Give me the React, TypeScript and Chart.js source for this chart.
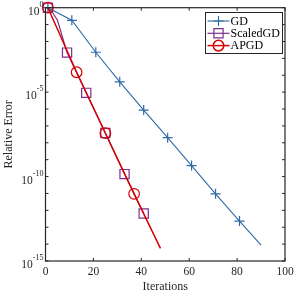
import React, { useEffect, useRef } from 'react';
import { Chart, registerables } from 'chart.js';

Chart.register(...registerables);

// ---- data ----
const GD_ITER = [1, 11, 21, 31, 41, 51, 61, 71, 81, 90];
const GD_ERR = [1, 1.8e-1, 2.3e-3, 4.1e-5, 8.7e-7, 2.0e-8, 4.5e-10, 9.5e-12, 2.3e-13, 8.7e-15];
const GD_MARK = [1, 1, 1, 1, 1, 1, 1, 1, 1, 0];

const SGD_ITER = [1, 3, 5, 7, 9, 17, 25, 33, 41];
const SGD_ERR = [1, 5.0e-1, 1.8e-1, 2.0e-2, 2.2e-3, 9.1e-6, 3.8e-8, 1.4e-10, 6.5e-13];
const SGD_MARK = [1, 0, 0, 0, 1, 1, 1, 1, 1];

const APGD_ITER = [1, 13, 25, 37, 48];
const APGD_ERR = [1, 1.5e-4, 3.7e-8, 9.5e-12, 5.6e-15];
const APGD_MARK = [1, 1, 1, 1, 0];

const SERIES_NAMES = ['GD', 'ScaledGD', 'APGD'];
const X_TICKS = [0, 20, 40, 60, 80, 100];
const Y_MINOR_EXP = [0, -1, -2, -3, -4, -5, -6, -7, -8, -9, -10, -11, -12, -13, -14, -15];
const Y_LABEL_EXP = [0, -5, -10, -15];
const X_TITLE = 'Iterations';
const Y_TITLE = 'Relative Error';

const COLORS = ['#2f6aa6', '#7e2f8e', '#d60000'];
const STYLES = ['cross', 'rect', 'circle'];
const RADII = [5, 6.5, 5.3];
const LINE_W = [1.1, 1.2, 1.5];

const FONT = '"Liberation Serif", "Times New Roman", serif';
const AXIS = '#262626';

function toPts(xs: number[], ys: number[]) {
  return xs.map((x, i) => ({ x, y: ys[i] }));
}

function drawMarker(ctx: CanvasRenderingContext2D, style: string, x: number, y: number, r: number) {
  ctx.beginPath();
  if (style === 'cross') {
    ctx.moveTo(x - r, y);
    ctx.lineTo(x + r, y);
    ctx.moveTo(x, y - r);
    ctx.lineTo(x, y + r);
  } else if (style === 'rect') {
    const s = Math.SQRT1_2 * r;
    ctx.rect(x - s, y - s, 2 * s, 2 * s);
  } else {
    ctx.arc(x, y, r, 0, Math.PI * 2);
  }
  ctx.stroke();
}

const axesPlugin = {
  id: 'matlabAxes',
  afterDatasetsDraw(chart: any) {
    const { ctx, chartArea: a, scales } = chart;
    const xs = scales.x;
    const ys = scales.y;
    ctx.save();
    ctx.strokeStyle = AXIS;
    ctx.lineWidth = 1.2;
    ctx.strokeRect(a.left, a.top, a.right - a.left, a.bottom - a.top);

    const tl = 3;
    ctx.lineWidth = 1;
    ctx.beginPath();
    X_TICKS.forEach((v) => {
      const px = xs.getPixelForValue(v);
      ctx.moveTo(px, a.bottom);
      ctx.lineTo(px, a.bottom - tl);
      ctx.moveTo(px, a.top);
      ctx.lineTo(px, a.top + tl);
    });
    Y_MINOR_EXP.forEach((e) => {
      const py = ys.getPixelForValue(Math.pow(10, e));
      ctx.moveTo(a.left, py);
      ctx.lineTo(a.left + tl, py);
      ctx.moveTo(a.right, py);
      ctx.lineTo(a.right - tl, py);
    });
    ctx.stroke();

    // x tick labels
    ctx.fillStyle = AXIS;
    ctx.font = `11.5px ${FONT}`;
    ctx.textAlign = 'center';
    ctx.textBaseline = 'middle';
    X_TICKS.forEach((v) => {
      ctx.fillText(String(v), xs.getPixelForValue(v), a.bottom + 11);
    });

    // y tick labels 10^e
    Y_LABEL_EXP.forEach((e) => {
      const py = ys.getPixelForValue(Math.pow(10, e));
      const sup = e === 0 ? '0' : '-' + String(-e);
      ctx.font = `8px ${FONT}`;
      ctx.textAlign = 'right';
      ctx.textBaseline = 'alphabetic';
      const supW = ctx.measureText(sup).width;
      const rx = a.left - 2;
      ctx.fillText(sup, rx, py - 1);
      ctx.font = `11.5px ${FONT}`;
      ctx.fillText('10', rx - supW, py + 7);
    });

    // axis titles
    ctx.font = `12px ${FONT}`;
    ctx.textAlign = 'center';
    ctx.textBaseline = 'middle';
    ctx.fillText(X_TITLE, (a.left + a.right) / 2, a.bottom + 26);
    ctx.save();
    ctx.translate(9, (a.top + a.bottom) / 2);
    ctx.rotate(-Math.PI / 2);
    ctx.fillText(Y_TITLE, 0, 0);
    ctx.restore();

    // legend
    const bx = 205.5, by = 12.5, bw = 77, bh = 41;
    ctx.fillStyle = '#ffffff';
    ctx.fillRect(bx, by, bw, bh);
    ctx.strokeStyle = AXIS;
    ctx.lineWidth = 1;
    ctx.strokeRect(bx, by, bw, bh);
    chart.data.datasets.forEach((ds: any, i: number) => {
      const ry = by + 8.5 + i * 12.3;
      ctx.strokeStyle = COLORS[i];
      ctx.lineWidth = LINE_W[i];
      ctx.beginPath();
      ctx.moveTo(bx + 2, ry);
      ctx.lineTo(bx + 24, ry);
      ctx.stroke();
      drawMarker(ctx, STYLES[i], bx + 13, ry, RADII[i]);
      ctx.fillStyle = '#000000';
      ctx.font = `12px ${FONT}`;
      ctx.textAlign = 'left';
      ctx.textBaseline = 'middle';
      ctx.fillText(ds.label, bx + 25, ry + 0.5);
    });
    ctx.restore();
  },
};

export default function App() {
  const ref = useRef<HTMLCanvasElement | null>(null);
  useEffect(() => {
    document.body.style.margin = '0';
    const canvas = ref.current!;
    const series = [
      { xs: GD_ITER, ys: GD_ERR, mark: GD_MARK },
      { xs: SGD_ITER, ys: SGD_ERR, mark: SGD_MARK },
      { xs: APGD_ITER, ys: APGD_ERR, mark: APGD_MARK },
    ];
    const chart = new Chart(canvas, {
      type: 'line',
      data: {
        datasets: series.map((s, i) => ({
          label: SERIES_NAMES[i],
          data: toPts(s.xs, s.ys),
          borderColor: COLORS[i],
          backgroundColor: 'rgba(0,0,0,0)',
          borderWidth: LINE_W[i],
          pointStyle: STYLES[i] as any,
          pointRadius: s.mark.map((m) => (m ? RADII[i] : 0)),
          pointBorderColor: COLORS[i],
          pointBackgroundColor: 'rgba(0,0,0,0)',
          pointBorderWidth: 1.2,
          tension: 0,
          fill: false,
          clip: false as any,
          order: 3 - i,
        })),
      },
      options: {
        responsive: false,
        animation: false,
        events: [],
        layout: { padding: { left: 45.5, right: 9, top: 6, bottom: 33 } },
        plugins: { legend: { display: false }, tooltip: { enabled: false } },
        scales: {
          x: { type: 'linear', min: 0, max: 100, display: false },
          y: { type: 'logarithmic', min: 1e-15, max: 1, display: false },
        },
      },
      plugins: [axesPlugin],
    });
    return () => chart.destroy();
  }, []);
  return (
    <div style={{ position: 'fixed', left: 0, top: 0, width: 294, height: 294, background: '#fff' }}>
      <canvas ref={ref} width={294} height={294} />
    </div>
  );
}
